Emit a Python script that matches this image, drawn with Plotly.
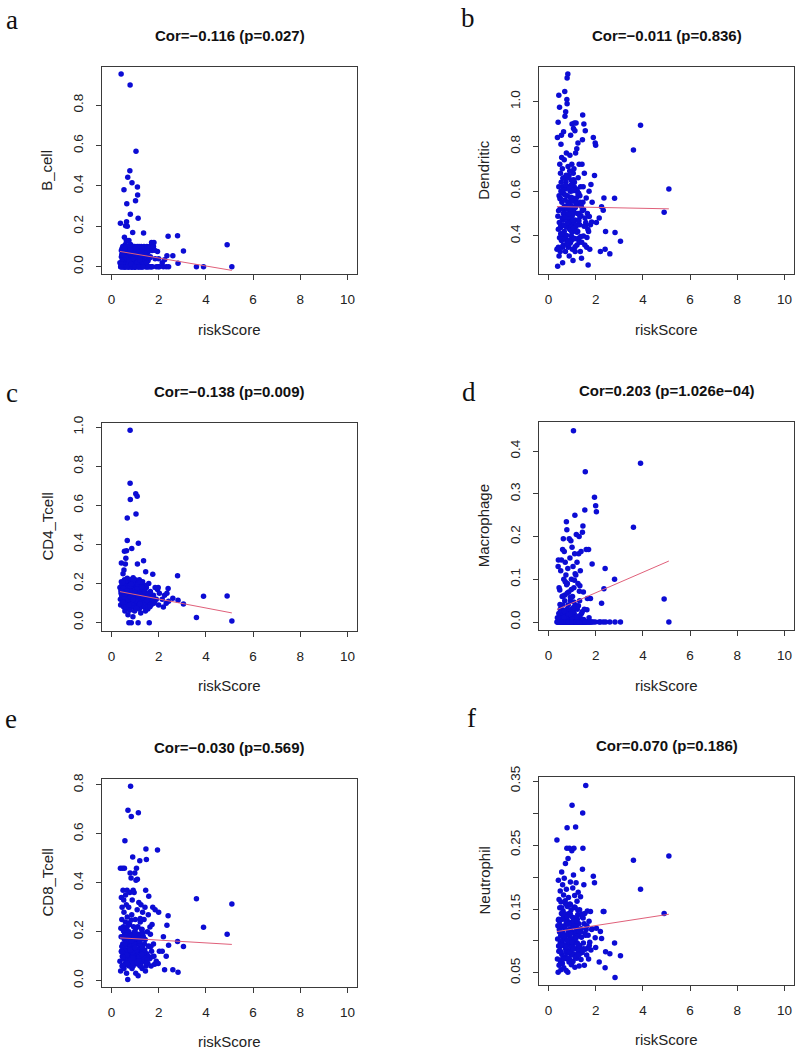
import numpy as np
import plotly.graph_objects as go

# Shared riskScore values (one per sample)
riskScore = [
    0.36, 0.38, 0.39, 0.41, 0.42, 0.42, 0.44, 0.45, 0.45, 0.47,
    0.48, 0.49, 0.50, 0.51, 0.52, 0.53, 0.53, 0.55, 0.55, 0.56,
    0.57, 0.58, 0.59, 0.60, 0.61, 0.62, 0.63, 0.64, 0.65, 0.66,
    0.67, 0.67, 0.69, 0.70, 0.71, 0.72, 0.73, 0.74, 0.75, 0.76,
    0.77, 0.78, 0.79, 0.79, 0.80, 0.81, 0.82, 0.83, 0.84, 0.85,
    0.86, 0.87, 0.88, 0.89, 0.90, 0.91, 0.92, 0.93, 0.94, 0.95,
    0.96, 0.97, 0.98, 0.99, 1.00, 1.01, 1.02, 1.03, 1.04, 1.05,
    1.06, 1.07, 1.08, 1.09, 1.10, 1.11, 1.12, 1.13, 1.14, 1.15,
    1.16, 1.17, 1.18, 1.20, 1.21, 1.22, 1.24, 1.25, 1.26, 1.28,
    1.29, 1.30, 1.32, 1.33, 1.35, 1.36, 1.38, 1.40, 1.42, 1.44,
    1.45, 1.46, 1.48, 1.50, 1.52, 1.54, 1.56, 1.58, 1.60, 1.62,
    1.65, 1.68, 1.70, 1.72, 1.75, 1.78, 1.80, 1.85, 1.90, 1.95,
    0.46, 0.54, 0.63, 0.68, 0.74, 0.82, 0.88, 0.94, 1.00, 1.08,
    0.50, 0.58, 0.66, 0.72, 0.78, 0.86, 0.92, 0.98, 1.04, 1.12,
    0.44, 0.60, 0.70, 0.76, 0.84, 0.90, 0.97, 1.02, 1.18, 1.27,
    0.52, 0.64, 0.81, 0.96, 1.10, 1.23, 1.34, 1.47, 1.55, 1.67,
    0.43, 0.51, 0.57, 0.62, 0.69, 0.73, 0.77, 0.83, 0.87, 0.91,
    0.95, 0.99, 1.03, 1.07, 1.11, 1.14, 1.19, 1.22, 1.31, 1.39,
    0.47, 0.55, 0.61, 0.65, 0.71, 0.79, 0.85, 0.89, 0.93, 1.01,
    1.05, 1.09, 1.13, 1.17, 1.21, 1.25, 1.29, 1.37, 1.43, 1.51,
    0.40, 0.49, 0.56, 0.67, 0.75, 0.80, 0.84, 0.92, 0.99, 1.06,
    1.16, 1.20, 1.28, 1.33, 1.41, 1.49, 1.57, 1.63, 1.73, 1.83,
    1.98, 2.00, 2.03, 2.15, 2.20, 2.25, 2.32, 2.35, 2.40, 2.42,
    2.60, 2.80, 2.82, 3.05, 3.60, 3.90, 4.90, 5.10,
]

B_cell = [
    0.02, 0.215, 0.0, 0.955, 0.08, 0.05, 0.0, 0.09, 0.03, 0.06,
    0.10, 0.0, 0.07, 0.04, 0.01, 0.382, 0.09, 0.146, 0.0, 0.05,
    0.08, 0.02, 0.11, 0.203, 0.0, 0.06, 0.13, 0.223, 0.312, 0.09,
    0.20, 0.04, 0.443, 0.0, 0.10, 0.07, 0.03, 0.13, 0.09, 0.0,
    0.06, 0.476, 0.90, 0.02, 0.26, 0.11, 0.0, 0.08, 0.05, 0.10,
    0.03, 0.416, 0.07, 0.0, 0.17, 0.09, 0.04, 0.10, 0.06, 0.01,
    0.08, 0.0, 0.05, 0.10, 0.02, 0.07, 0.327, 0.09, 0.572, 0.04,
    0.0, 0.08, 0.06, 0.10, 0.395, 0.355, 0.03, 0.24, 0.09, 0.0,
    0.07, 0.10, 0.02, 0.05, 0.09, 0.0, 0.08, 0.04, 0.10, 0.06,
    0.01, 0.09, 0.07, 0.0, 0.05, 0.167, 0.10, 0.03, 0.08, 0.0,
    0.06, 0.09, 0.02, 0.10, 0.0, 0.07, 0.04, 0.08, 0.0, 0.10,
    0.05, 0.0, 0.12, 0.08, 0.11, 0.10, 0.12, 0.04, 0.0, 0.075,
    0.0, 0.06, 0.0, 0.08, 0.0, 0.04, 0.0, 0.02, 0.0, 0.05,
    0.03, 0.0, 0.05, 0.0, 0.09, 0.0, 0.06, 0.0, 0.08, 0.01,
    0.06, 0.10, 0.02, 0.07, 0.0, 0.04, 0.09, 0.0, 0.03, 0.0,
    0.0, 0.02, 0.04, 0.0, 0.07, 0.0, 0.05, 0.0, 0.03, 0.0,
    0.012, 0.067, 0.0, 0.088, 0.034, 0.0, 0.052, 0.095, 0.0, 0.073,
    0.041, 0.0, 0.086, 0.018, 0.062, 0.0, 0.094, 0.027, 0.0, 0.058,
    0.083, 0.0, 0.046, 0.099, 0.016, 0.071, 0.0, 0.038, 0.087, 0.0,
    0.063, 0.022, 0.0, 0.079, 0.045, 0.0, 0.092, 0.013, 0.068, 0.0,
    0.0, 0.057, 0.092, 0.0, 0.031, 0.084, 0.012, 0.066, 0.0, 0.097,
    0.0, 0.036, 0.074, 0.0, 0.053, 0.02, 0.0, 0.045, 0.0, 0.082,
    0.0, 0.04, 0.0, 0.02, 0.0, 0.035, 0.0, 0.055, 0.151, 0.0,
    0.055, 0.154, 0.017, 0.078, 0.0, 0.0, 0.109, 0.0,
]

Dendritic = [
    0.34, 0.84, 0.265, 0.908, 0.43, 0.35, 1.028, 0.58, 0.31, 0.975,
    0.72, 0.52, 0.33, 0.68, 0.45, 0.81, 0.60, 0.85, 0.38, 0.75,
    0.55, 0.40, 0.70, 0.28, 0.62, 0.47, 0.36, 0.865, 0.52, 0.66,
    0.42, 0.74, 1.045, 0.935, 0.56, 0.33, 0.955, 0.64, 0.48, 0.77,
    0.38, 1.01, 1.106, 0.99, 0.58, 0.44, 1.123, 0.71, 0.35, 0.62,
    0.50, 0.67, 0.31, 0.55, 0.43, 0.76, 0.60, 0.37, 0.85, 0.48,
    0.65, 0.40, 0.53, 0.72, 0.90, 0.34, 0.57, 0.46, 0.29, 0.68,
    0.88, 0.51, 0.39, 0.62, 0.905, 0.44, 0.87, 0.33, 0.56, 0.77,
    0.47, 0.905, 0.61, 0.79, 0.36, 0.54, 0.42, 0.815, 0.66, 0.50,
    0.38, 0.72, 0.45, 0.58, 0.33, 0.62, 0.49, 0.30, 0.72, 0.83,
    0.94, 0.55, 0.40, 0.90, 0.68, 0.36, 0.87, 0.46, 0.57, 0.35,
    0.50, 0.27, 0.42, 0.60, 0.34, 0.45, 0.63, 0.55, 0.84, 0.67,
    0.46, 0.64, 0.50, 0.40, 0.53, 0.66, 0.45, 0.57, 0.49, 0.70,
    0.57, 0.48, 0.39, 0.61, 0.52, 0.36, 0.54, 0.63, 0.42, 0.47,
    0.62, 0.35, 0.50, 0.44, 0.55, 0.69, 0.38, 0.51, 0.57, 0.39,
    0.41, 0.59, 0.48, 0.44, 0.64, 0.50, 0.55, 0.62, 0.48, 0.43,
    0.512, 0.437, 0.598, 0.356, 0.483, 0.627, 0.402, 0.548, 0.462, 0.381,
    0.573, 0.418, 0.496, 0.651, 0.388, 0.527, 0.447, 0.602, 0.372, 0.533,
    0.392, 0.521, 0.658, 0.447, 0.583, 0.366, 0.497, 0.612, 0.428, 0.556,
    0.471, 0.603, 0.352, 0.538, 0.417, 0.589, 0.468, 0.397, 0.512, 0.443,
    0.488, 0.566, 0.409, 0.532, 0.671, 0.459, 0.377, 0.521, 0.601, 0.434,
    0.548, 0.423, 0.591, 0.486, 0.372, 0.517, 0.445, 0.393, 0.487, 0.462,
    0.815, 0.805, 0.46, 0.48, 0.33, 0.53, 0.515, 0.57, 0.34, 0.42,
    0.32, 0.568, 0.415, 0.376, 0.784, 0.895, 0.506, 0.61,
]

CD4_Tcell = [
    0.18, 0.12, 0.09, 0.15, 0.305, 0.21, 0.13, 0.17, 0.10, 0.20,
    0.14, 0.25, 0.11, 0.19, 0.08, 0.16, 0.27, 0.22, 0.365, 0.13,
    0.06, 0.18, 0.30, 0.12, 0.33, 0.15, 0.09, 0.368, 0.20, 0.11,
    0.42, 0.536, 0.17, 0.04, 0.21, 0.13, 0.10, 0.0, 0.16, 0.19,
    0.07, 0.14, 0.985, 0.713, 0.63, 0.22, 0.11, 0.18, 0.0, 0.15,
    0.38, 0.09, 0.20, 0.12, 0.17, 0.03, 0.23, 0.14, 0.08, 0.19,
    0.13, 0.21, 0.06, 0.16, 0.10, 0.22, 0.18, 0.659, 0.556, 0.12,
    0.15, 0.08, 0.20, 0.647, 0.30, 0.11, 0.17, 0.0, 0.407, 0.14,
    0.19, 0.07, 0.22, 0.13, 0.10, 0.16, 0.05, 0.20, 0.12, 0.18,
    0.09, 0.15, 0.21, 0.11, 0.17, 0.317, 0.08, 0.14, 0.19, 0.06,
    0.26, 0.13, 0.18, 0.10, 0.15, 0.07, 0.12, 0.20, 0.0, 0.11,
    0.16, 0.09, 0.13, 0.11, 0.248, 0.14, 0.10, 0.18, 0.12, 0.17,
    0.16, 0.10, 0.19, 0.12, 0.15, 0.08, 0.17, 0.11, 0.14, 0.09,
    0.12, 0.15, 0.08, 0.18, 0.10, 0.13, 0.16, 0.09, 0.12, 0.15,
    0.19, 0.14, 0.11, 0.13, 0.16, 0.10, 0.14, 0.17, 0.11, 0.13,
    0.10, 0.17, 0.15, 0.12, 0.13, 0.14, 0.11, 0.15, 0.09, 0.12,
    0.142, 0.176, 0.097, 0.213, 0.128, 0.186, 0.064, 0.158, 0.119, 0.201,
    0.087, 0.167, 0.143, 0.108, 0.193, 0.126, 0.074, 0.152, 0.181, 0.117,
    0.205, 0.131, 0.079, 0.162, 0.118, 0.188, 0.141, 0.099, 0.217, 0.153,
    0.112, 0.174, 0.137, 0.091, 0.207, 0.146, 0.121, 0.168, 0.104, 0.139,
    0.163, 0.104, 0.145, 0.227, 0.089, 0.131, 0.196, 0.118, 0.154, 0.072,
    0.141, 0.097, 0.183, 0.126, 0.158, 0.113, 0.147, 0.082, 0.131, 0.109,
    0.18, 0.09, 0.15, 0.12, 0.08, 0.14, 0.10, 0.15, 0.175, 0.11,
    0.125, 0.24, 0.115, 0.095, 0.026, 0.135, 0.137, 0.009,
]

Macrophage = [
    0.0, 0.01, 0.0, 0.13, 0.0, 0.145, 0.02, 0.0, 0.08, 0.0,
    0.075, 0.0, 0.03, 0.0, 0.12, 0.01, 0.0, 0.145, 0.0, 0.02,
    0.0, 0.06, 0.0, 0.17, 0.04, 0.0, 0.195, 0.0, 0.10, 0.01,
    0.165, 0.0, 0.05, 0.0, 0.14, 0.02, 0.0, 0.11, 0.0, 0.235,
    0.0, 0.216, 0.03, 0.0, 0.09, 0.0, 0.125, 0.0, 0.04, 0.0,
    0.07, 0.0, 0.195, 0.0, 0.02, 0.15, 0.0, 0.05, 0.0, 0.19,
    0.0, 0.10, 0.0, 0.03, 0.175, 0.0, 0.06, 0.0, 0.13, 0.0,
    0.448, 0.0, 0.08, 0.02, 0.0, 0.16, 0.25, 0.0, 0.04, 0.0,
    0.11, 0.0, 0.205, 0.0, 0.14, 0.03, 0.0, 0.09, 0.0, 0.16,
    0.0, 0.20, 0.05, 0.0, 0.12, 0.0, 0.165, 0.02, 0.0, 0.21,
    0.0, 0.225, 0.07, 0.0, 0.03, 0.262, 0.352, 0.0, 0.17, 0.0,
    0.055, 0.0, 0.17, 0.01, 0.0, 0.055, 0.0, 0.136, 0.0, 0.292,
    0.0, 0.0, 0.017, 0.0, 0.0, 0.008, 0.0, 0.0, 0.023, 0.0,
    0.0, 0.012, 0.0, 0.0, 0.0, 0.019, 0.0, 0.006, 0.0, 0.0,
    0.009, 0.0, 0.063, 0.0, 0.021, 0.0, 0.076, 0.0, 0.0, 0.038,
    0.0, 0.027, 0.0, 0.0, 0.098, 0.0, 0.011, 0.0, 0.0, 0.0,
    0.004, 0.0, 0.022, 0.061, 0.0, 0.013, 0.087, 0.0, 0.028, 0.0,
    0.0, 0.016, 0.0, 0.047, 0.009, 0.0, 0.032, 0.0, 0.072, 0.0,
    0.0, 0.027, 0.0, 0.011, 0.094, 0.0, 0.018, 0.0, 0.058, 0.007,
    0.023, 0.0, 0.113, 0.0, 0.036, 0.0, 0.014, 0.0, 0.024, 0.0,
    0.0, 0.041, 0.0, 0.026, 0.0, 0.068, 0.0, 0.019, 0.0, 0.034,
    0.0, 0.012, 0.0, 0.085, 0.0, 0.006, 0.0, 0.029, 0.0, 0.0,
    0.0, 0.272, 0.258, 0.0, 0.0, 0.044, 0.0, 0.078, 0.125, 0.0,
    0.0, 0.10, 0.0, 0.0, 0.222, 0.372, 0.054, 0.0,
]

CD8_Tcell = [
    0.08, 0.46, 0.04, 0.18, 0.34, 0.12, 0.25, 0.06, 0.30, 0.46,
    0.15, 0.37, 0.09, 0.22, 0.33, 0.05, 0.28, 0.46, 0.13, 0.19,
    0.572, 0.10, 0.24, 0.35, 0.07, 0.17, 0.31, 0.03, 0.21, 0.37,
    0.12, 0.26, 0.005, 0.697, 0.16, 0.09, 0.30, 0.20, 0.06, 0.14,
    0.23, 0.36, 0.44, 0.11, 0.19, 0.795, 0.08, 0.42, 0.671, 0.15,
    0.27, 0.05, 0.33, 0.12, 0.505, 0.18, 0.37, 0.09, 0.22, 0.14,
    0.36, 0.07, 0.20, 0.44, 0.11, 0.25, 0.16, 0.03, 0.41, 0.13,
    0.46, 0.18, 0.08, 0.29, 0.415, 0.12, 0.22, 0.02, 0.686, 0.15,
    0.32, 0.10, 0.19, 0.49, 0.06, 0.24, 0.14, 0.31, 0.09, 0.17,
    0.21, 0.05, 0.28, 0.12, 0.18, 0.08, 0.25, 0.15, 0.30, 0.04,
    0.37, 0.538, 0.495, 0.11, 0.20, 0.07, 0.27, 0.345, 0.14, 0.09,
    0.19, 0.06, 0.12, 0.23, 0.30, 0.15, 0.10, 0.29, 0.08, 0.534,
    0.10, 0.17, 0.12, 0.08, 0.15, 0.11, 0.18, 0.13, 0.07, 0.10,
    0.13, 0.07, 0.16, 0.11, 0.09, 0.14, 0.06, 0.12, 0.17, 0.08,
    0.14, 0.12, 0.09, 0.17, 0.13, 0.10, 0.15, 0.08, 0.12, 0.11,
    0.11, 0.09, 0.14, 0.10, 0.13, 0.07, 0.12, 0.06, 0.10, 0.14,
    0.118, 0.203, 0.064, 0.157, 0.092, 0.236, 0.131, 0.078, 0.184, 0.109,
    0.146, 0.087, 0.213, 0.121, 0.068, 0.172, 0.103, 0.254, 0.139, 0.095,
    0.062, 0.141, 0.188, 0.104, 0.227, 0.083, 0.162, 0.117, 0.071, 0.196,
    0.128, 0.074, 0.182, 0.097, 0.151, 0.061, 0.208, 0.113, 0.168, 0.086,
    0.214, 0.097, 0.152, 0.071, 0.183, 0.124, 0.248, 0.093, 0.136, 0.176,
    0.082, 0.161, 0.107, 0.194, 0.125, 0.073, 0.142, 0.219, 0.098, 0.067,
    0.07, 0.28, 0.12, 0.12, 0.18, 0.045, 0.10, 0.227, 0.265, 0.145,
    0.045, 0.16, 0.035, 0.14, 0.335, 0.218, 0.19, 0.313,
]

Neutrophil = [
    0.258, 0.072, 0.103, 0.051, 0.195, 0.133, 0.084, 0.165, 0.062, 0.114,
    0.152, 0.091, 0.178, 0.068, 0.124, 0.055, 0.161, 0.097, 0.143, 0.208,
    0.079, 0.134, 0.065, 0.188, 0.112, 0.147, 0.093, 0.172, 0.058, 0.121,
    0.198, 0.104, 0.139, 0.075, 0.163, 0.221, 0.088, 0.126, 0.054, 0.181,
    0.109, 0.245, 0.082, 0.277, 0.154, 0.131, 0.051, 0.229, 0.098, 0.168,
    0.094, 0.143, 0.117, 0.245, 0.071, 0.158, 0.106, 0.192, 0.128, 0.083,
    0.149, 0.063, 0.114, 0.241, 0.312, 0.092, 0.137, 0.183, 0.068, 0.123,
    0.203, 0.101, 0.245, 0.079, 0.134, 0.171, 0.059, 0.152, 0.113, 0.278,
    0.088, 0.191, 0.119, 0.073, 0.162, 0.097, 0.141, 0.081, 0.176, 0.108,
    0.127, 0.061, 0.149, 0.093, 0.118, 0.169, 0.071, 0.106, 0.138, 0.212,
    0.300, 0.245, 0.097, 0.188, 0.062, 0.143, 0.087, 0.343, 0.118, 0.078,
    0.147, 0.109, 0.072, 0.131, 0.098, 0.146, 0.086, 0.119, 0.201, 0.191,
    0.118, 0.083, 0.107, 0.094, 0.132, 0.072, 0.101, 0.126, 0.089, 0.113,
    0.097, 0.122, 0.104, 0.137, 0.081, 0.116, 0.143, 0.091, 0.128, 0.106,
    0.134, 0.102, 0.123, 0.087, 0.111, 0.129, 0.078, 0.098, 0.121, 0.093,
    0.108, 0.141, 0.086, 0.115, 0.099, 0.127, 0.081, 0.136, 0.112, 0.089,
    0.092, 0.124, 0.071, 0.136, 0.103, 0.158, 0.084, 0.117, 0.067, 0.141,
    0.112, 0.079, 0.128, 0.096, 0.153, 0.074, 0.107, 0.134, 0.088, 0.119,
    0.131, 0.094, 0.113, 0.072, 0.142, 0.101, 0.126, 0.083, 0.157, 0.098,
    0.087, 0.136, 0.104, 0.121, 0.076, 0.148, 0.093, 0.114, 0.082, 0.127,
    0.124, 0.083, 0.152, 0.107, 0.091, 0.138, 0.073, 0.118, 0.099, 0.132,
    0.104, 0.131, 0.078, 0.115, 0.142, 0.088, 0.109, 0.124, 0.093, 0.118,
    0.105, 0.09, 0.12, 0.067, 0.115, 0.104, 0.146, 0.146, 0.058, 0.083,
    0.08, 0.097, 0.043, 0.077, 0.226, 0.181, 0.143, 0.233,
]

panel_letters = ["a", "b", "c", "d", "e", "f"]
cell_names = ["B_cell", "Dendritic", "CD4_Tcell", "Macrophage", "CD8_Tcell", "Neutrophil"]
cell_values = [B_cell, Dendritic, CD4_Tcell, Macrophage, CD8_Tcell, Neutrophil]
titles = [
    "Cor=\u22120.116 (p=0.027)",
    "Cor=\u22120.011 (p=0.836)",
    "Cor=\u22120.138 (p=0.009)",
    "Cor=0.203 (p=1.026e\u221204)",
    "Cor=\u22120.030 (p=0.569)",
    "Cor=0.070 (p=0.186)",
]
# linear fit: intercept, slope
fit_intercept = [0.0829, 0.5318, 0.1672, 0.0204, 0.1773, 0.1127]
fit_slope = [-0.0198, -0.0021, -0.0230, 0.0240, -0.0057, 0.0057]

x_ticks = [0, 2, 4, 6, 8, 10]
y_tickvals = [
    [0.0, 0.2, 0.4, 0.6, 0.8],
    [0.4, 0.6, 0.8, 1.0],
    [0.0, 0.2, 0.4, 0.6, 0.8, 1.0],
    [0.0, 0.1, 0.2, 0.3, 0.4],
    [0.0, 0.2, 0.4, 0.6, 0.8],
    [0.05, 0.10, 0.15, 0.20, 0.25, 0.30, 0.35],
]
y_ticktext = [
    ["0.0", "0.2", "0.4", "0.6", "0.8"],
    ["0.4", "0.6", "0.8", "1.0"],
    ["0.0", "0.2", "0.4", "0.6", "0.8", "1.0"],
    ["0.0", "0.1", "0.2", "0.3", "0.4"],
    ["0.0", "0.2", "0.4", "0.6", "0.8"],
    ["0.05", "", "0.15", "", "0.25", "", "0.35"],
]
y_ranges = [
    [-0.036, 0.991],
    [0.230, 1.156],
    [-0.041, 1.020],
    [-0.0187, 0.469],
    [-0.0245, 0.823],
    [0.0317, 0.3558],
]

W, H = 800, 1051
OFF = 0  # body margin removed by the post script below
# plot boxes in screen pixels: left, right, top, bottom
boxes = [
    (102, 357, 66.7, 274.0),
    (539, 794, 66.7, 274.0),
    (102, 357, 423.3, 630.7),
    (539, 794, 421.7, 630.0),
    (102, 357, 779.3, 986.7),
    (539, 794, 777.3, 984.7),
]


def px(v):
    return (v - OFF) / W


def py(v):
    return 1 - (v - OFF) / H


FONT = "Liberation Sans, Arial, sans-serif"
AXC = "#3a3a3a"
PT = "#0c0cd4"
LINE = "#e0607a"

fig = go.Figure()
annotations = []
layout = dict(
    width=W, height=H,
    margin=dict(l=0, r=0, t=0, b=0, pad=0, autoexpand=False),
    paper_bgcolor="white", plot_bgcolor="white",
    showlegend=False,
    font=dict(family=FONT, color="#222"),
)

x_arr = np.array(riskScore)
for i in range(6):
    n = "" if i == 0 else str(i + 1)
    xa, ya = "x" + n, "y" + n
    fig.add_trace(go.Scatter(
        x=riskScore, y=cell_values[i], mode="markers",
        marker=dict(color=PT, size=5.5, line=dict(width=0)),
        xaxis=xa, yaxis=ya, hoverinfo="x+y",
    ))
    lx = np.array([x_arr.min(), x_arr.max()])
    fig.add_trace(go.Scatter(
        x=lx, y=fit_intercept[i] + fit_slope[i] * lx, mode="lines",
        line=dict(color=LINE, width=1), xaxis=xa, yaxis=ya, hoverinfo="skip",
    ))
    l, r, t, b = boxes[i]
    layout["xaxis" + n] = dict(
        domain=[px(l), px(r)], anchor=ya, range=[-0.4, 10.4], automargin=False,
        tickvals=x_ticks, ticktext=[str(v) for v in x_ticks],
        showline=True, mirror=True, linecolor=AXC, linewidth=1,
        ticks="outside", ticklen=5, tickcolor=AXC, tickwidth=1,
        showgrid=False, zeroline=False,
        tickfont=dict(family=FONT, size=13.5, color="#222"),
        ticklabelstandoff=8,
    )
    layout["yaxis" + n] = dict(
        domain=[py(b), py(t)], anchor=xa, range=y_ranges[i], automargin=False,
        tickvals=y_tickvals[i], ticktext=y_ticktext[i], tickangle=-90,
        showline=True, mirror=True, linecolor=AXC, linewidth=1,
        ticks="outside", ticklen=5, tickcolor=AXC, tickwidth=1,
        showgrid=False, zeroline=False,
        tickfont=dict(family=FONT, size=13.5, color="#222"),
        ticklabelstandoff=8,
    )
    cx = (l + r) / 2
    annotations.append(dict(
        text="<b>" + titles[i] + "</b>", x=px(cx), y=py(t - 31.5),
        xref="paper", yref="paper", showarrow=False,
        xanchor="center", yanchor="middle",
        font=dict(family=FONT, size=15, color="#111"),
    ))
    annotations.append(dict(
        text="riskScore", x=px(cx), y=py(b + 55),
        xref="paper", yref="paper", showarrow=False,
        xanchor="center", yanchor="middle",
        font=dict(family=FONT, size=15, color="#222"),
    ))
    annotations.append(dict(
        text=cell_names[i], x=px(l - 55.5), y=py((t + b) / 2),
        xref="paper", yref="paper", showarrow=False, textangle=-90,
        xanchor="center", yanchor="middle",
        font=dict(family=FONT, size=15, color="#222"),
    ))

letter_pos = [(12, 20), (468, 18), (12, 393), (469, 392), (11, 719), (471, 718)]
for (lxp, lyp), letter in zip(letter_pos, panel_letters):
    annotations.append(dict(
        text=letter, x=px(lxp), y=py(lyp), xref="paper", yref="paper",
        showarrow=False, xanchor="center", yanchor="middle",
        font=dict(family="Liberation Serif, Times New Roman, serif", size=27, color="#111"),
    ))

layout["annotations"] = annotations
fig.update_layout(**layout)
fig.write_html(
    "out.html",
    config={"displayModeBar": False},
    post_script="document.body.style.margin='0px';document.body.style.padding='0px';"
                "document.documentElement.style.overflow='hidden';",
)
